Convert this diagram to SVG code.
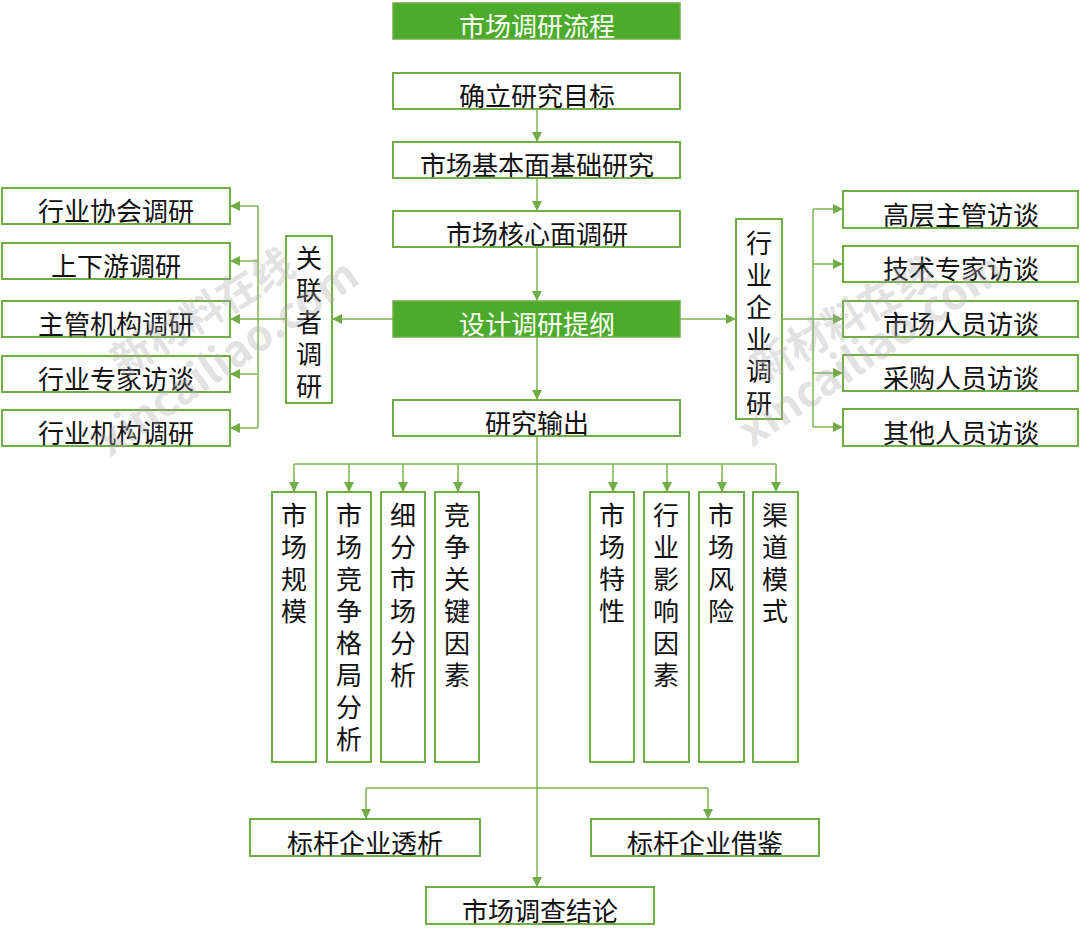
<svg xmlns="http://www.w3.org/2000/svg" width="1080" height="943" viewBox="0 0 1080 943">
<style>
.box{fill:#fff;stroke:#70ad47;stroke-width:2}
.gbox{fill:#4dab2c;stroke:#70ad47;stroke-width:1.5}
.t{font-family:"Noto Sans CJK SC","Noto Sans",sans-serif;font-size:26px;fill:#111;text-anchor:middle}
.v{font-family:"Noto Sans CJK SC","Noto Sans",sans-serif;font-size:26px;fill:#111;writing-mode:vertical-rl;letter-spacing:6px}
.tw{font-family:"Noto Sans CJK SC","Noto Sans",sans-serif;font-size:26px;fill:#fff;text-anchor:middle}
.c{stroke:#7ab650;stroke-width:1.5;fill:none}
.wm{font-family:"Noto Sans CJK SC","DejaVu Sans",sans-serif;font-weight:bold;fill:#a8a8a8;opacity:0.33}
</style>
<defs>
<marker id="ah" markerUnits="userSpaceOnUse" markerWidth="11" markerHeight="11" refX="10" refY="5" orient="auto">
<path d="M0,0 L10,5 L0,10 z" fill="#70ad47"/>
</marker>
</defs>
<g id="connectors">
<line class="c" x1="537" y1="109" x2="537" y2="142" marker-end="url(#ah)"/>
<line class="c" x1="537" y1="178" x2="537" y2="211" marker-end="url(#ah)"/>
<line class="c" x1="537" y1="247" x2="537" y2="301" marker-end="url(#ah)"/>
<line class="c" x1="537" y1="337" x2="537" y2="400" marker-end="url(#ah)"/>
<line class="c" x1="393" y1="319" x2="332" y2="319" marker-end="url(#ah)"/>
<line class="c" x1="286" y1="319" x2="258" y2="319"/>
<line class="c" x1="258" y1="206" x2="258" y2="428"/>
<line class="c" x1="258" y1="206" x2="230" y2="206" marker-end="url(#ah)"/>
<line class="c" x1="258" y1="261" x2="230" y2="261" marker-end="url(#ah)"/>
<line class="c" x1="258" y1="319" x2="230" y2="319" marker-end="url(#ah)"/>
<line class="c" x1="258" y1="374" x2="230" y2="374" marker-end="url(#ah)"/>
<line class="c" x1="258" y1="428" x2="230" y2="428" marker-end="url(#ah)"/>
<line class="c" x1="680" y1="319" x2="736" y2="319" marker-end="url(#ah)"/>
<line class="c" x1="782" y1="319" x2="813" y2="319"/>
<line class="c" x1="813" y1="209" x2="813" y2="427"/>
<line class="c" x1="813" y1="209" x2="843" y2="209" marker-end="url(#ah)"/>
<line class="c" x1="813" y1="264" x2="843" y2="264" marker-end="url(#ah)"/>
<line class="c" x1="813" y1="319" x2="843" y2="319" marker-end="url(#ah)"/>
<line class="c" x1="813" y1="373" x2="843" y2="373" marker-end="url(#ah)"/>
<line class="c" x1="813" y1="427" x2="843" y2="427" marker-end="url(#ah)"/>
<line class="c" x1="537" y1="436" x2="537" y2="887" marker-end="url(#ah)"/>
<line class="c" x1="294" y1="464" x2="776" y2="464"/>
<line class="c" x1="294" y1="464" x2="294" y2="492" marker-end="url(#ah)"/>
<line class="c" x1="349" y1="464" x2="349" y2="492" marker-end="url(#ah)"/>
<line class="c" x1="403" y1="464" x2="403" y2="492" marker-end="url(#ah)"/>
<line class="c" x1="458" y1="464" x2="458" y2="492" marker-end="url(#ah)"/>
<line class="c" x1="613" y1="464" x2="613" y2="492" marker-end="url(#ah)"/>
<line class="c" x1="667" y1="464" x2="667" y2="492" marker-end="url(#ah)"/>
<line class="c" x1="722" y1="464" x2="722" y2="492" marker-end="url(#ah)"/>
<line class="c" x1="776" y1="464" x2="776" y2="492" marker-end="url(#ah)"/>
<line class="c" x1="366" y1="788" x2="708" y2="788"/>
<line class="c" x1="366" y1="788" x2="366" y2="819" marker-end="url(#ah)"/>
<line class="c" x1="708" y1="788" x2="708" y2="819" marker-end="url(#ah)"/>
</g>
<g id="n-title"><rect class="gbox" x="393" y="3" width="287" height="36"/><text class="tw" x="537" y="36">市场调研流程</text></g>
<g id="n-goal"><rect class="box" x="393" y="73" width="287" height="36"/><text class="t" x="537" y="106">确立研究目标</text></g>
<g id="n-basic"><rect class="box" x="393" y="142" width="287" height="36"/><text class="t" x="537" y="175">市场基本面基础研究</text></g>
<g id="n-core"><rect class="box" x="393" y="211" width="287" height="36"/><text class="t" x="537" y="244">市场核心面调研</text></g>
<g id="n-outline"><rect class="gbox" x="393" y="301" width="287" height="36"/><text class="tw" x="537" y="334">设计调研提纲</text></g>
<g id="n-output"><rect class="box" x="393" y="400" width="287" height="36"/><text class="t" x="537" y="433">研究输出</text></g>

<g id="n-l1"><rect class="box" x="2" y="188" width="228" height="36"/><text class="t" x="116" y="221">行业协会调研</text></g>
<g id="n-l2"><rect class="box" x="2" y="243" width="228" height="36"/><text class="t" x="116" y="276">上下游调研</text></g>
<g id="n-l3"><rect class="box" x="2" y="301" width="228" height="36"/><text class="t" x="116" y="334">主管机构调研</text></g>
<g id="n-l4"><rect class="box" x="2" y="356" width="228" height="36"/><text class="t" x="116" y="389">行业专家访谈</text></g>
<g id="n-l5"><rect class="box" x="2" y="410" width="228" height="36"/><text class="t" x="116" y="443">行业机构调研</text></g>
<g id="n-related"><rect class="box" x="286" y="236" width="46" height="167"/><text class="v" x="309" y="245">关联者调研</text></g>

<g id="n-industry"><rect class="box" x="736" y="219" width="46" height="200"/><text class="v" x="759" y="230">行业企业调研</text></g>
<g id="n-r1"><rect class="box" x="843" y="191" width="235" height="37"/><text class="t" x="961" y="225">高层主管访谈</text></g>
<g id="n-r2"><rect class="box" x="843" y="246" width="235" height="36"/><text class="t" x="961" y="279">技术专家访谈</text></g>
<g id="n-r3"><rect class="box" x="843" y="301" width="235" height="36"/><text class="t" x="961" y="334">市场人员访谈</text></g>
<g id="n-r4"><rect class="box" x="843" y="355" width="235" height="36"/><text class="t" x="961" y="388">采购人员访谈</text></g>
<g id="n-r5"><rect class="box" x="843" y="409" width="235" height="37"/><text class="t" x="961" y="443">其他人员访谈</text></g>

<g id="n-v1"><rect class="box" x="272" y="492" width="44" height="270"/><text class="v" x="294" y="502">市场规模</text></g>
<g id="n-v2"><rect class="box" x="327" y="492" width="44" height="270"/><text class="v" x="349" y="502">市场竞争格局分析</text></g>
<g id="n-v3"><rect class="box" x="381" y="492" width="44" height="270"/><text class="v" x="403" y="502">细分市场分析</text></g>
<g id="n-v4"><rect class="box" x="435" y="492" width="44" height="270"/><text class="v" x="457" y="502">竞争关键因素</text></g>
<g id="n-v5"><rect class="box" x="590" y="492" width="44" height="270"/><text class="v" x="612" y="502">市场特性</text></g>
<g id="n-v6"><rect class="box" x="644" y="492" width="45" height="270"/><text class="v" x="666" y="502">行业影响因素</text></g>
<g id="n-v7"><rect class="box" x="699" y="492" width="45" height="270"/><text class="v" x="721" y="502">市场风险</text></g>
<g id="n-v8"><rect class="box" x="753" y="492" width="45" height="270"/><text class="v" x="775" y="502">渠道模式</text></g>

<g id="n-b1"><rect class="box" x="250" y="819" width="230" height="37"/><text class="t" x="365" y="853">标杆企业透析</text></g>
<g id="n-b2"><rect class="box" x="591" y="819" width="228" height="37"/><text class="t" x="705" y="853">标杆企业借鉴</text></g>
<g id="n-conclusion"><rect class="box" x="426" y="887" width="228" height="37"/><text class="t" x="540" y="921">市场调查结论</text></g>
<g id="watermarks">
<text class="wm" font-size="41" transform="translate(122,378) rotate(-31)">新材料在线</text>
<text class="wm" font-size="43" transform="translate(110,458) rotate(-35)">xincailiao.com</text>
<text class="wm" font-size="41" transform="translate(762,384) rotate(-30)">新材料在线</text>
<text class="wm" font-size="43" transform="translate(752,448) rotate(-34)">xincailiao.com</text>
</g>
</svg>
